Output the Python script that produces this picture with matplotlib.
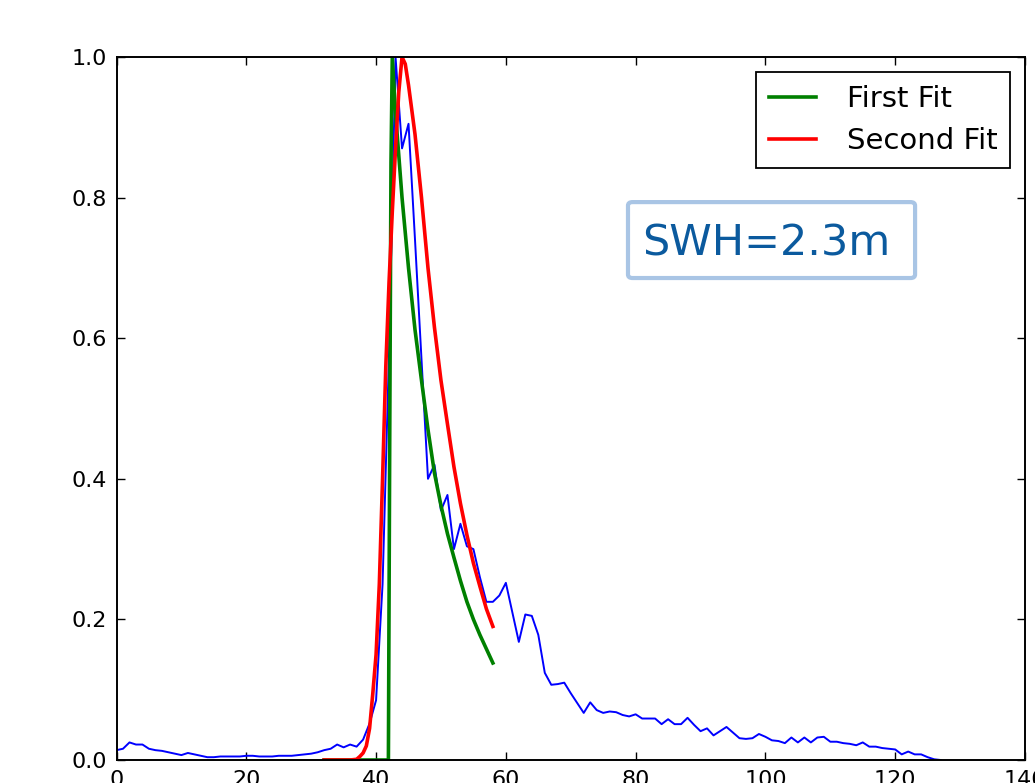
import numpy as np
import matplotlib
matplotlib.use('Agg')
import matplotlib.pyplot as plt
from matplotlib.patches import FancyBboxPatch

# measured waveform, one sample per bin
wave_y = [0.014, 0.016, 0.025, 0.022, 0.022, 0.016, 0.014, 0.013, 0.011, 0.009,
          0.007, 0.010, 0.008, 0.006, 0.004, 0.004, 0.005, 0.005, 0.005, 0.005,
          0.006, 0.006, 0.005, 0.005, 0.005, 0.006, 0.006, 0.006, 0.007, 0.008,
          0.009, 0.011, 0.014, 0.016, 0.022, 0.018, 0.022, 0.019, 0.029, 0.052,
          0.085, 0.25, 0.58, 1.0, 0.87, 0.905, 0.74, 0.57, 0.40, 0.42,
          0.355, 0.377, 0.30, 0.336, 0.304, 0.300, 0.26, 0.225, 0.225, 0.234,
          0.252, 0.21, 0.168, 0.207, 0.205, 0.178, 0.124, 0.107, 0.108, 0.110,
          0.095, 0.081, 0.067, 0.082, 0.071, 0.067, 0.069, 0.068, 0.064, 0.062,
          0.065, 0.059, 0.059, 0.059, 0.051, 0.058, 0.051, 0.051, 0.060, 0.050,
          0.041, 0.045, 0.035, 0.041, 0.047, 0.039, 0.031, 0.030, 0.031, 0.037,
          0.033, 0.028, 0.027, 0.024, 0.032, 0.025, 0.032, 0.025, 0.032, 0.033,
          0.026, 0.026, 0.024, 0.023, 0.021, 0.025, 0.019, 0.019, 0.017, 0.016,
          0.015, 0.008, 0.012, 0.008, 0.008, 0.004, 0.001, 0.0]
wave_x = np.arange(len(wave_y))

# first fit (sharp leading edge)
fit1_x = [32, 41.9, 42.1, 42.3, 42.5, 43, 44, 45, 46, 47, 48, 49, 50,
          51, 52, 53, 54, 55, 56, 57, 58]
fit1_y = [0.0, 0.0, 0.45, 0.85, 1.0, 0.92, 0.80, 0.70, 0.612, 0.54, 0.47, 0.408, 0.362,
          0.322, 0.288, 0.255, 0.225, 0.20, 0.178, 0.158, 0.138]

# second fit
fit2_x = [32, 36, 37, 37.5, 38, 38.5, 39, 39.5, 40, 40.5, 41, 41.5, 42, 42.5,
          43, 43.5, 44, 44.5, 45, 46, 47, 48, 49, 50, 51, 52, 53, 54, 55,
          56, 57, 58]
fit2_y = [0.0, 0.0, 0.001, 0.005, 0.01, 0.02, 0.045, 0.095, 0.15, 0.25, 0.40, 0.56, 0.68, 0.78,
          0.87, 0.95, 1.0, 0.99, 0.96, 0.89, 0.80, 0.70, 0.615, 0.54, 0.478, 0.417, 0.365, 0.32, 0.28,
          0.247, 0.215, 0.19]

x_ticks = [0, 20, 40, 60, 80, 100, 120, 140]
y_ticks = [0.0, 0.2, 0.4, 0.6, 0.8, 1.0]
swh_label = 'SWH=2.3m'

fig = plt.figure(figsize=(10.35, 7.83), dpi=100)
ax = fig.add_axes([116.5 / 1035, 23 / 783, 908.5 / 1035, 703 / 783])

ax.plot(wave_x, wave_y, color='b', lw=1.4)
ax.plot(fit1_x, fit1_y, color='g', lw=2.6, label='First Fit')
ax.plot(fit2_x, fit2_y, color='r', lw=2.6, label='Second Fit')

ax.set_xlim(0, 140)
ax.set_ylim(0, 1.0)
ax.set_xticks(x_ticks)
ax.set_yticks(y_ticks)
ax.set_yticklabels(['%.1f' % v for v in y_ticks])
ax.tick_params(direction='in', top=True, right=True, length=6, width=1,
               labelsize=16, pad=7)
for sp in ax.spines.values():
    sp.set_linewidth(1.4)

leg = ax.legend(loc='upper right', fontsize=21, handlelength=1.6,
                handletextpad=1.05, borderpad=0.45, labelspacing=0.48,
                borderaxespad=0.5, fancybox=False, framealpha=1)
leg.get_frame().set_edgecolor('black')
leg.get_frame().set_linewidth(1.3)

# pasted-on label box, a bit wider on the right than the text
box = FancyBboxPatch((0.563, 0.6856), 0.316, 0.108,
                     boxstyle='round,pad=0,rounding_size=0.005',
                     transform=ax.transAxes, fc='white', ec='#a9c5e5',
                     lw=3, zorder=4)
ax.add_patch(box)
ax.text(0.5784, 0.7183, swh_label, transform=ax.transAxes, fontsize=31,
        color='#0b5a9e', ha='left', va='baseline', zorder=5)

fig.savefig('out.png', dpi=100)
